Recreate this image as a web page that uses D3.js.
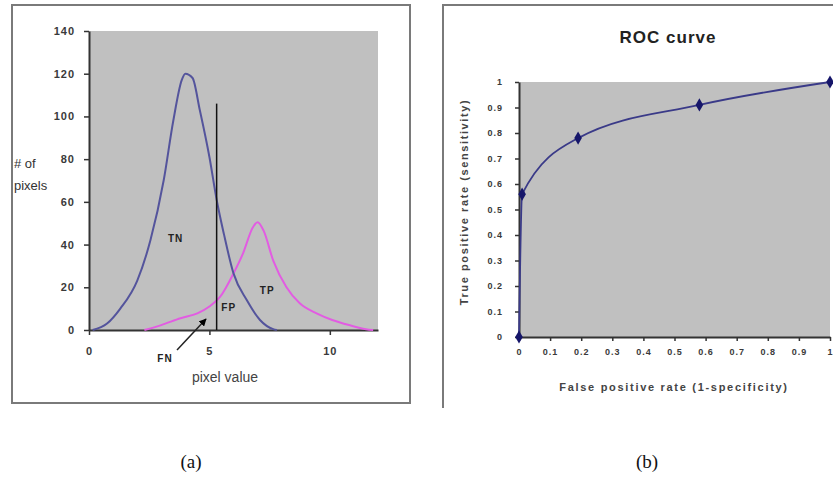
<!DOCTYPE html>
<html lang="en">
<head>
    <meta charset="UTF-8">
    <title>Pixel histogram and ROC curve</title>
    <style>
        body {
            margin: 0;
            background: #fff;
        }
        svg text {
            font-family: Arial, 'Liberation Sans', sans-serif;
        }
        .tick-label {
            font-size: 11px;
            font-weight: bold;
            fill: #3a3a3a;
            letter-spacing: 1px;
        }
        .caption {
            font-family: 'Liberation Serif', 'Times New Roman', serif !important;
            font-size: 19px;
            fill: #111;
        }
    </style>
</head>
<body>
    <svg id="chart" width="833" height="479"></svg>

    <script src="https://d3js.org/d3.v7.min.js"></script>
    <script>
        // --- (a) histogram of pixel values ---
        const histYTicks = [0, 20, 40, 60, 80, 100, 120, 140];
        const histXTicks = [0, 5, 10];
        const tnX = [0.15, 0.75, 1.3, 2.0, 2.55, 3.1, 3.5, 3.85, 4.0, 4.3, 4.6, 5.0, 5.3, 5.6, 6.0, 6.55, 7.1, 7.65, 7.8];
        const tnY = [0, 3, 10, 23, 42, 70, 98, 117, 120, 118, 103, 81, 61, 45, 26.5, 14, 4.7, 0.4, 0];
        const tpX = [2.3, 3.0, 3.8, 4.5, 5.0, 5.45, 6.0, 6.4, 6.8, 7.0, 7.25, 7.65, 8.2, 8.75, 9.45, 10.1, 10.8, 11.5, 11.8];
        const tpY = [0, 2.3, 5.5, 7.8, 11, 15.6, 26.5, 36, 48, 50.5, 46.5, 32.5, 20, 12.5, 7.8, 4.7, 2.3, 0.4, 0];
        const threshold = 5.3;
        const thresholdTop = 106;
        const regionLabels = [
            { text: 'TN', x: 3.6, y: 41 },
            { text: 'FP', x: 5.8, y: 9 },
            { text: 'TP', x: 7.4, y: 17 }
        ];

        // --- (b) ROC curve ---
        const fpr = [0, 0.01, 0.19, 0.58, 1];
        const tpr = [0, 0.56, 0.78, 0.91, 1];
        const rocTicks = d3.range(0, 11).map(i => i / 10);

        const svg = d3.select('#chart');

        // arrow head
        svg.append('defs').append('marker')
            .attr('id', 'arrow')
            .attr('viewBox', '0 0 10 10')
            .attr('refX', 9).attr('refY', 5)
            .attr('markerWidth', 5).attr('markerHeight', 5)
            .attr('orient', 'auto')
            .append('path')
            .attr('d', 'M0,0 L10,5 L0,10 z')
            .attr('fill', '#000');

        // ---------- panel (a) ----------
        const a = svg.append('g');
        a.append('rect')
            .attr('x', 12).attr('y', 5).attr('width', 398).attr('height', 398)
            .attr('fill', 'none').attr('stroke', '#7a7a7a').attr('stroke-width', 2);

        const ax = d3.scaleLinear().domain([0, 12]).range([89, 378]);
        const ay = d3.scaleLinear().domain([0, 140]).range([330, 31]);

        a.append('rect')
            .attr('x', ax(0)).attr('y', ay(140))
            .attr('width', ax(12) - ax(0)).attr('height', ay(0) - ay(140))
            .attr('fill', '#c0c0c0');

        const aYAxis = a.append('g')
            .attr('transform', `translate(${ax(0)},0)`)
            .call(d3.axisLeft(ay).tickValues(histYTicks).tickSize(5).tickPadding(9).tickSizeOuter(0));
        const aXAxis = a.append('g')
            .attr('transform', `translate(0,${ay(0)})`)
            .call(d3.axisBottom(ax).tickValues(histXTicks).tickSize(5).tickPadding(12).tickSizeOuter(0));
        [aYAxis, aXAxis].forEach(g => {
            g.select('.domain').attr('stroke', '#333').attr('stroke-width', 2);
            g.selectAll('.tick line').attr('stroke', '#333').attr('stroke-width', 1.5);
            g.selectAll('.tick text').attr('class', 'tick-label').attr('font-size', null).attr('font-family', null).attr('fill', null);
        });

        const histLine = (xs, ys) => d3.line()
            .x(i => ax(xs[i])).y(i => ay(ys[i]))
            .curve(d3.curveMonotoneX)(d3.range(xs.length));

        a.append('path')
            .attr('d', histLine(tpX, tpY))
            .attr('fill', 'none').attr('stroke', '#e25ce2').attr('stroke-width', 2);
        a.append('path')
            .attr('d', histLine(tnX, tnY))
            .attr('fill', 'none').attr('stroke', '#54549c').attr('stroke-width', 2);

        a.append('line')
            .attr('x1', ax(threshold)).attr('x2', ax(threshold))
            .attr('y1', ay(0)).attr('y2', ay(thresholdTop))
            .attr('stroke', '#111').attr('stroke-width', 1.5);

        a.selectAll('.region')
            .data(regionLabels)
            .join('text')
            .attr('x', d => ax(d.x)).attr('y', d => ay(d.y))
            .attr('text-anchor', 'middle')
            .attr('font-size', 10).attr('font-weight', 'bold')
            .attr('letter-spacing', 1).attr('fill', '#222')
            .text(d => d.text);

        // FN label and arrow
        a.append('text')
            .attr('x', 165).attr('y', 362)
            .attr('text-anchor', 'middle')
            .attr('font-size', 10).attr('font-weight', 'bold')
            .attr('letter-spacing', 1).attr('fill', '#222')
            .text('FN');
        a.append('line')
            .attr('x1', 177).attr('y1', 350).attr('x2', 206).attr('y2', 319)
            .attr('stroke', '#222').attr('stroke-width', 1.5)
            .attr('marker-end', 'url(#arrow)');

        a.append('text').attr('x', 14).attr('y', 168)
            .attr('font-size', 13).attr('fill', '#333').text('# of');
        a.append('text').attr('x', 14).attr('y', 190)
            .attr('font-size', 13).attr('fill', '#333').text('pixels');
        a.append('text').attr('x', 225).attr('y', 382)
            .attr('text-anchor', 'middle')
            .attr('font-size', 14).attr('fill', '#444').text('pixel value');

        a.append('text').attr('class', 'caption')
            .attr('x', 191).attr('y', 468)
            .attr('text-anchor', 'middle').text('(a)');

        // ---------- panel (b) ----------
        const b = svg.append('g');
        b.append('path')
            .attr('d', 'M443,408 L443,5 L833,5')
            .attr('fill', 'none').attr('stroke', '#7a7a7a').attr('stroke-width', 2);

        b.append('text')
            .attr('x', 668).attr('y', 43)
            .attr('text-anchor', 'middle')
            .attr('font-size', 17).attr('font-weight', 'bold')
            .attr('letter-spacing', 1).attr('fill', '#222')
            .text('ROC curve');

        const bx = d3.scaleLinear().domain([0, 1]).range([519, 830]);
        const by = d3.scaleLinear().domain([0, 1]).range([337, 82]);

        b.append('rect')
            .attr('x', bx(0)).attr('y', by(1))
            .attr('width', bx(1) - bx(0)).attr('height', by(0) - by(1))
            .attr('fill', '#c0c0c0');

        const bYAxis = b.append('g')
            .attr('transform', `translate(${bx(0)},0)`)
            .call(d3.axisLeft(by).tickValues(rocTicks).tickFormat(d3.format('~g')).tickSize(4).tickPadding(12).tickSizeOuter(0));
        const bXAxis = b.append('g')
            .attr('transform', `translate(0,${by(0)})`)
            .call(d3.axisBottom(bx).tickValues(rocTicks).tickFormat(d3.format('~g')).tickSize(4).tickPadding(8).tickSizeOuter(0));
        [bYAxis, bXAxis].forEach(g => {
            g.select('.domain').attr('stroke', '#333').attr('stroke-width', 2);
            g.selectAll('.tick line').attr('stroke', '#333').attr('stroke-width', 1.5);
            g.selectAll('.tick text').attr('class', 'tick-label').attr('font-size', null).attr('font-family', null).attr('fill', null)
                .style('font-size', '9px');
        });
        // last x label sits against the right edge of the figure
        bXAxis.selectAll('.tick text').filter(d => d === 1).attr('text-anchor', 'end').attr('dx', 3);

        b.append('text')
            .attr('transform', `translate(468,202) rotate(-90)`)
            .attr('text-anchor', 'middle')
            .attr('font-size', 11).attr('font-weight', 'bold')
            .attr('letter-spacing', 1.6).attr('fill', '#444')
            .text('True positive rate (sensitivity)');
        b.append('text')
            .attr('x', 674).attr('y', 391)
            .attr('text-anchor', 'middle')
            .attr('font-size', 11).attr('font-weight', 'bold')
            .attr('letter-spacing', 1.7).attr('fill', '#444')
            .text('False positive rate (1-specificity)');

        const rocIdx = d3.range(fpr.length);
        b.append('path')
            .attr('d', d3.line().x(i => bx(fpr[i])).y(i => by(tpr[i])).curve(d3.curveMonotoneX)(rocIdx))
            .attr('fill', 'none').attr('stroke', '#3a3a88').attr('stroke-width', 1.8);

        b.selectAll('.pt')
            .data(rocIdx)
            .join('path')
            .attr('transform', i => `translate(${bx(fpr[i])},${by(tpr[i])})`)
            .attr('d', d3.symbol(d3.symbolDiamond, 50))
            .attr('fill', '#16166a');

        b.append('text').attr('class', 'caption')
            .attr('x', 647).attr('y', 468)
            .attr('text-anchor', 'middle').text('(b)');
    </script>
</body>
</html>
